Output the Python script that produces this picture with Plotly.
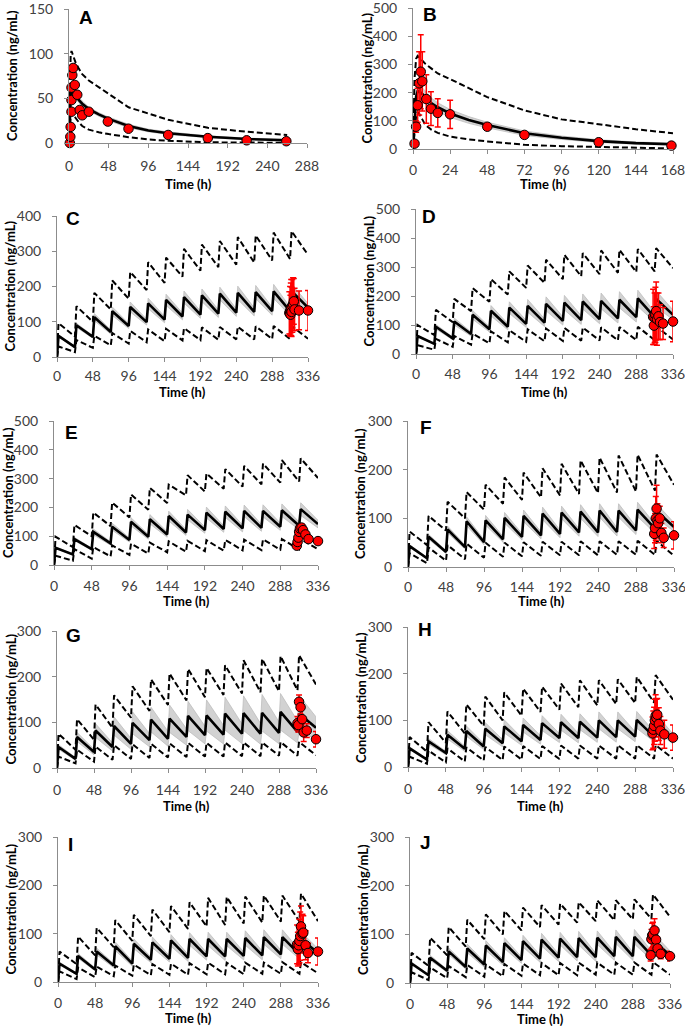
import plotly.graph_objects as go

W, H = 685, 1026

# ---------------- Panel A (single dose) ----------------
A_t = [0, 1, 2, 3, 4, 6, 8, 12, 16, 24, 36, 48, 72, 96, 120, 168, 216, 264]
A_med = [0, 30, 48, 56, 57, 56, 53, 48, 44, 38, 32, 27, 19, 14, 11, 7, 4.5, 3]
A_hi = [0, 70, 98, 103, 100, 95, 90, 83, 77, 70, 62, 55, 40, 33, 26, 17, 12.5, 9]
A_lo = [0, 18, 30, 34, 33, 31, 28, 23, 19, 15, 12, 10, 6.5, 4, 2.5, 0.8, 0.4, 0.2]
A_spread = [0, 3, 3, 3, 3, 3, 3, 3, 3, 2, 2, 2, 2, 1.5, 1.5, 1, 1, 1]
A_obs_t = [1, 1.6, 2, 3, 3, 3, 4, 5, 7, 10, 13, 16, 24, 47, 72, 120, 168, 215, 263]
A_obs_y = [0, 7, 18, 35, 48, 62, 76, 84, 65, 54, 37, 31, 35, 24, 16, 9, 5.5, 3, 2]

# ---------------- Panel B (single dose) ----------------
B_t = [0, 1, 2, 3, 4, 6, 8, 12, 16, 24, 36, 48, 72, 96, 120, 144, 168]
B_med = [0, 120, 185, 205, 205, 195, 182, 162, 148, 126, 103, 85, 56, 40, 28, 21, 17]
B_hi = [0, 250, 320, 330, 325, 312, 302, 285, 268, 248, 215, 184, 137, 105, 88, 70, 56]
B_lo = [0, 70, 115, 130, 125, 105, 85, 68, 57, 44, 34, 27, 15, 10, 7, 4, 2]
B_spread = [0, 20, 25, 25, 25, 22, 20, 18, 16, 14, 12, 10, 8, 6, 5, 4, 4]
B_obs_t = [1, 2, 3, 4, 5, 6, 8.6, 11.6, 16, 24, 48, 72, 120, 167]
B_obs_y = [19, 79, 155, 233, 274, 240, 177, 143, 128, 123, 79, 50, 24, 12]
B_obs_e = [0, 20, 60, 112, 131, 105, 86, 60, 50, 50, 0, 0, 0, 0]

# ---------------- Multiple dose panels C-J (dosing every 24 h) ----------------
DOSE_T = [0, 24, 48, 72, 96, 120, 144, 168, 192, 216, 240, 264, 288, 312]
END_T = 336

C_med_pk = [60, 90, 113, 130, 142, 152, 162, 170, 175, 180, 182, 184, 186, 187]
C_med_tr = [0, 28, 57, 71, 88, 99, 106, 115, 120, 123, 126, 128, 130, 130, 140]
C_hi_pk = [96, 144, 182, 217, 241, 269, 282, 307, 319, 329, 340, 345, 353, 357]
C_hi_tr = [0, 58, 100, 135, 165, 190, 210, 228, 245, 255, 262, 268, 274, 278, 290]
C_lo_pk = [30, 48, 60, 68, 74, 78, 80, 82, 84, 85, 86, 87, 88, 88]
C_lo_tr = [0, 14, 26, 33, 38, 42, 45, 47, 48, 49, 50, 50, 51, 51, 52]
C_spread = [3, 6, 10, 12, 14, 15, 16, 17, 18, 18, 19, 19, 20, 20]
C_obs_t = [311, 312, 312.5, 313, 313.5, 314, 315, 316, 317, 318, 324, 336]
C_obs_y = [125, 130, 120, 135, 140, 128, 145, 150, 158, 135, 132, 132]
C_obs_e = [60, 70, 55, 75, 80, 70, 75, 75, 65, 60, 55, 57]

D_med_pk = [62, 94, 112, 135, 149, 160, 166, 173, 177, 181, 183, 187, 192, 190]
D_med_tr = [0, 35, 54, 69, 85, 94, 104, 108, 114, 117, 120, 123, 127, 127, 135]
D_hi_pk = [100, 152, 190, 227, 258, 285, 305, 325, 342, 348, 357, 359, 362, 365]
D_hi_tr = [0, 65, 110, 148, 180, 205, 228, 245, 258, 268, 275, 280, 283, 285, 296]
D_lo_pk = [30, 52, 62, 70, 78, 82, 85, 88, 90, 91, 92, 93, 94, 95]
D_lo_tr = [0, 15, 25, 32, 37, 40, 42, 44, 45, 46, 47, 47, 48, 48, 50]
D_spread = [4, 8, 12, 15, 18, 20, 22, 24, 25, 26, 27, 28, 28, 28]
D_obs_t = [310, 311, 312, 313, 314, 315, 317, 319, 323, 336]
D_obs_y = [128, 98, 125, 135, 148, 120, 130, 110, 105, 112]
D_obs_e = [95, 65, 85, 95, 100, 90, 80, 60, 55, 70]

E_med_pk = [60, 90, 115, 133, 150, 159, 170, 175, 182, 185, 188, 188, 190, 194]
E_med_tr = [0, 37, 55, 75, 87, 98, 106, 113, 121, 125, 127, 129, 133, 136, 142]
E_hi_pk = [98, 139, 182, 217, 245, 268, 279, 312, 318, 333, 344, 352, 364, 370]
E_hi_tr = [0, 62, 100, 135, 165, 192, 215, 242, 255, 265, 272, 280, 286, 290, 302]
E_lo_pk = [32, 55, 62, 68, 74, 78, 82, 84, 86, 87, 88, 89, 90, 90]
E_lo_tr = [0, 15, 22, 30, 35, 40, 44, 46, 48, 50, 51, 52, 53, 54, 55]
E_spread = [3, 6, 10, 12, 14, 16, 17, 18, 19, 20, 20, 21, 22, 22]
E_obs_t = [309, 310, 311, 312, 313, 315, 317, 320, 324, 336]
E_obs_y = [67, 80, 95, 115, 127, 130, 121, 106, 90, 83]
E_obs_e = [6, 8, 10, 10, 12, 12, 10, 8, 6, 6]

F_med_pk = [43, 62, 77, 94, 96, 101, 105, 110, 112, 114, 116, 116, 118, 115]
F_med_tr = [0, 18, 31, 41, 51, 57, 62, 65, 68, 71, 71, 72, 75, 79, 82]
F_hi_pk = [73, 105, 134, 154, 169, 184, 194, 203, 212, 219, 225, 229, 231, 231]
F_hi_tr = [0, 45, 75, 100, 118, 130, 138, 143, 147, 150, 152, 153, 155, 157, 169]
F_lo_pk = [28, 40, 45, 48, 50, 50, 51, 52, 52, 53, 53, 53, 54, 54]
F_lo_tr = [0, 8, 13, 16, 19, 21, 22, 23, 24, 24, 24, 25, 25, 25, 23]
F_spread = [3, 5, 7, 9, 10, 11, 12, 13, 13, 14, 14, 14, 15, 15]
F_obs_t = [311, 312, 313, 314, 315, 316, 318, 320, 323, 336]
F_obs_y = [68, 80, 100, 120, 95, 90, 100, 70, 60, 65]
F_obs_e = [30, 30, 45, 48, 35, 30, 25, 20, 20, 28]

G_med_pk = [46, 68, 82, 92, 99, 106, 108, 114, 115, 119, 120, 121, 123, 119]
G_med_tr = [0, 20, 35, 46, 53, 61, 64, 68, 72, 73, 75, 75, 77, 79, 88]
G_hi_pk = [75, 107, 139, 159, 179, 194, 207, 217, 219, 225, 236, 239, 245, 247]
G_hi_tr = [0, 40, 62, 88, 110, 125, 138, 148, 155, 160, 163, 166, 168, 170, 183]
G_lo_pk = [25, 40, 47, 50, 52, 53, 54, 55, 55, 56, 56, 56, 57, 57]
G_lo_tr = [0, 10, 14, 18, 20, 22, 23, 24, 25, 25, 26, 26, 27, 27, 28]
G_spread = [5, 10, 15, 20, 24, 27, 30, 32, 34, 36, 38, 40, 40, 40]
G_obs_t = [312, 313, 314, 316, 318, 320, 324, 336]
G_obs_y = [98, 94, 145, 133, 107, 78, 82, 63]
G_obs_e = [15, 15, 15, 15, 25, 20, 15, 17]

H_med_pk = [40, 55, 69, 77, 82, 87, 90, 94, 96, 97, 100, 100, 101, 97]
H_med_tr = [0, 16, 30, 39, 44, 51, 55, 58, 62, 62, 63, 64, 65, 65, 60]
H_hi_pk = [64, 96, 119, 134, 151, 160, 168, 172, 179, 186, 186, 188, 193, 197]
H_hi_tr = [0, 33, 52, 72, 88, 100, 110, 118, 123, 128, 132, 135, 137, 138, 144]
H_lo_pk = [22, 35, 40, 42, 43, 44, 45, 45, 46, 46, 46, 47, 47, 47]
H_lo_tr = [0, 7, 10, 12, 14, 15, 16, 17, 17, 18, 18, 18, 18, 18, 18]
H_spread = [3, 6, 9, 11, 13, 14, 15, 16, 17, 17, 18, 18, 18, 18]
H_obs_t = [310, 311, 312, 313, 314, 315, 316, 318, 320, 325, 336]
H_obs_y = [72, 80, 88, 100, 110, 105, 112, 92, 78, 70, 63]
H_obs_e = [35, 40, 40, 45, 45, 40, 35, 35, 30, 30, 27]

I_med_pk = [38, 54, 63, 74, 79, 82, 86, 89, 89, 89, 91, 93, 93, 89]
I_med_tr = [0, 17, 26, 34, 38, 46, 48, 50, 53, 53, 54, 55, 57, 57, 60]
I_hi_pk = [63, 94, 112, 128, 139, 150, 157, 165, 174, 176, 177, 179, 179, 183]
I_hi_tr = [0, 37, 55, 72, 85, 95, 103, 110, 115, 118, 121, 123, 125, 125, 126]
I_lo_pk = [22, 30, 32, 34, 36, 37, 38, 39, 40, 40, 40, 40, 41, 41]
I_lo_tr = [0, 6, 10, 12, 13, 14, 15, 15, 16, 16, 16, 17, 17, 17, 18]
I_spread = [3, 5, 7, 9, 10, 11, 12, 13, 14, 14, 15, 15, 15, 15]
I_obs_t = [309, 310, 311, 312, 313, 314, 316, 317, 320, 323, 336]
I_obs_y = [78, 68, 76, 85, 95, 115, 100, 102, 76, 60, 63]
I_obs_e = [40, 35, 40, 45, 50, 42, 40, 35, 30, 20, 28]

J_med_pk = [40, 52, 65, 71, 77, 82, 86, 89, 91, 92, 93, 95, 95, 88]
J_med_tr = [0, 16, 25, 33, 38, 43, 47, 50, 52, 53, 53, 55, 55, 57, 57]
J_hi_pk = [62, 93, 115, 130, 141, 148, 155, 160, 163, 166, 170, 170, 172, 182]
J_hi_tr = [0, 35, 57, 75, 90, 100, 108, 115, 120, 124, 127, 129, 131, 132, 136]
J_lo_pk = [22, 32, 35, 37, 38, 39, 40, 41, 41, 42, 42, 42, 42, 43]
J_lo_tr = [0, 6, 10, 12, 13, 14, 15, 16, 16, 16, 17, 17, 17, 17, 17]
J_spread = [3, 5, 7, 9, 10, 11, 12, 13, 13, 14, 14, 14, 15, 15]
J_obs_t = [311, 312, 313, 314, 316, 318, 320, 324, 336]
J_obs_y = [57, 90, 98, 100, 108, 89, 71, 60, 55]
J_obs_e = [12, 20, 25, 25, 24, 20, 15, 10, 10]

Y_TITLE = "Concentration (ng/mL)"
X_TITLE = "Time (h)"

# ---------------- helpers ----------------
RISE = 2.0


def sawtooth(pk, tr):
    xs, ys = [], []
    for k, t0 in enumerate(DOSE_T):
        xs += [t0, t0 + RISE]
        ys += [tr[k], pk[k]]
    xs.append(END_T)
    ys.append(tr[len(DOSE_T)])
    return xs, ys


def band_md(pk, tr, spread, sign):
    up_pk = [p + sign * s for p, s in zip(pk, spread)]
    up_tr = [tr[0]] + [t + sign * 0.6 * s for t, s in zip(tr[1:], spread)]
    return sawtooth(up_pk, up_tr)


fig = go.Figure()

BAND = "rgba(205,205,205,0.9)"
DASH = "6px,3px"


def add_band(xs_u, ys_u, xs_l, ys_l, ax):
    fig.add_trace(go.Scatter(x=xs_u + xs_l[::-1], y=ys_u + ys_l[::-1], fill="toself",
                             fillcolor=BAND, line=dict(color="rgba(185,185,185,0.9)", width=0.8),
                             mode="lines", hoverinfo="skip", showlegend=False,
                             xaxis="x" + ax, yaxis="y" + ax))


def add_line(xs, ys, ax, dash=None, width=2.0):
    fig.add_trace(go.Scatter(x=xs, y=ys, mode="lines",
                             line=dict(color="black", width=width, dash=dash),
                             showlegend=False, hoverinfo="skip",
                             xaxis="x" + ax, yaxis="y" + ax))


def add_obs(t, y, e, ax):
    kw = {}
    if e is not None:
        kw["error_y"] = dict(type="data", array=e, color="#ff0000", thickness=1.5, width=3)
    fig.add_trace(go.Scatter(x=t, y=y, mode="markers",
                             marker=dict(size=9.5, color="#ff0000", line=dict(color="black", width=1)),
                             showlegend=False, cliponaxis=False,
                             xaxis="x" + ax, yaxis="y" + ax, **kw))


# panel A
ax = ""
ua = [m + s for m, s in zip(A_med, A_spread)]
la = [m - s for m, s in zip(A_med, A_spread)]
add_band(A_t, ua, A_t, la, ax)
add_line(A_t, A_hi, ax, DASH)
add_line(A_t, A_lo, ax, DASH)
add_line(A_t, A_med, ax, None, 2.6)
add_obs(A_obs_t, A_obs_y, None, ax)

# panel B
ax = "2"
ub = [m + s for m, s in zip(B_med, B_spread)]
lb = [max(m - s, 0) for m, s in zip(B_med, B_spread)]
add_band(B_t, ub, B_t, lb, ax)
add_line(B_t, B_hi, ax, DASH)
add_line(B_t, B_lo, ax, DASH)
add_line(B_t, B_med, ax, None, 2.6)
add_obs(B_obs_t, B_obs_y, B_obs_e, ax)

multi = [
    ("3", C_med_pk, C_med_tr, C_hi_pk, C_hi_tr, C_lo_pk, C_lo_tr, C_spread, C_obs_t, C_obs_y, C_obs_e),
    ("4", D_med_pk, D_med_tr, D_hi_pk, D_hi_tr, D_lo_pk, D_lo_tr, D_spread, D_obs_t, D_obs_y, D_obs_e),
    ("5", E_med_pk, E_med_tr, E_hi_pk, E_hi_tr, E_lo_pk, E_lo_tr, E_spread, E_obs_t, E_obs_y, E_obs_e),
    ("6", F_med_pk, F_med_tr, F_hi_pk, F_hi_tr, F_lo_pk, F_lo_tr, F_spread, F_obs_t, F_obs_y, F_obs_e),
    ("7", G_med_pk, G_med_tr, G_hi_pk, G_hi_tr, G_lo_pk, G_lo_tr, G_spread, G_obs_t, G_obs_y, G_obs_e),
    ("8", H_med_pk, H_med_tr, H_hi_pk, H_hi_tr, H_lo_pk, H_lo_tr, H_spread, H_obs_t, H_obs_y, H_obs_e),
    ("9", I_med_pk, I_med_tr, I_hi_pk, I_hi_tr, I_lo_pk, I_lo_tr, I_spread, I_obs_t, I_obs_y, I_obs_e),
    ("10", J_med_pk, J_med_tr, J_hi_pk, J_hi_tr, J_lo_pk, J_lo_tr, J_spread, J_obs_t, J_obs_y, J_obs_e),
]
for (ax, mpk, mtr, hpk, htr, lpk, ltr, spr, ot, oy, oe) in multi:
    xu, yu = band_md(mpk, mtr, spr, 1)
    xl, yl = band_md(mpk, mtr, spr, -1)
    add_band(xu, yu, xl, yl, ax)
    xs, ys = sawtooth(hpk, htr)
    add_line(xs, ys, ax, DASH)
    xs, ys = sawtooth(lpk, ltr)
    add_line(xs, ys, ax, DASH)
    xs, ys = sawtooth(mpk, mtr)
    add_line(xs, ys, ax, None, 2.6)
    add_obs(ot, oy, oe, ax)

# ---------------- layout (pixel geometry) ----------------
# letter, x0, x1, ytop, ybot, xmax, xdtick, ymax, letter_x, letter_y, ytitle_x, xtitle_y, xlabel_standoff
geom = [
    ("A", 69, 307, 9, 143, 288, 48, 150, 86, 17, 12, 184, 6),
    ("B", 413, 673, 8, 149, 168, 24, 500, 430, 15, 367, 184, 4),
    ("C", 57, 308, 216, 357, 336, 48, 400, 73, 218, 10, 392, 2),
    ("D", 416, 673, 209, 354, 336, 48, 500, 429, 216, 368, 392, 3),
    ("E", 54, 318, 421, 565, 336, 48, 500, 71, 432, 8, 601, 4),
    ("F", 408, 674, 421, 567, 336, 48, 300, 426, 427, 360, 601, 3),
    ("G", 57, 316, 631, 768, 336, 48, 300, 73, 635, 10, 806, 5),
    ("H", 408, 673, 627, 767, 336, 48, 300, 425, 629, 361, 806, 5),
    ("I", 58, 318, 837, 982, 336, 48, 300, 70, 844, 10, 1018, 4),
    ("J", 410, 670, 837, 983, 336, 48, 300, 425, 842, 363, 1019, 4),
]

TICKFONT = dict(family="Lato, Open Sans, sans-serif", size=14, color="#404040")
AXC = "#8c8c8c"
ann = []
lay = {}
for i, (let, x0, x1, yt, yb, xmax, xd, ymax, lx, ly, tx, ty, xs_off) in enumerate(geom):
    n = "" if i == 0 else str(i + 1)
    lay["xaxis" + n] = dict(domain=[x0 / W, x1 / W], range=[0, xmax], dtick=xd, tick0=0,
                            anchor="y" + n, showline=True, linecolor=AXC, linewidth=1,
                            ticks="outside", ticklen=4, tickcolor=AXC, showgrid=False,
                            zeroline=False, tickfont=TICKFONT, ticklabelstandoff=xs_off,
                            ticklabeloverflow="allow", automargin=False)
    lay["yaxis" + n] = dict(domain=[1 - yb / H, 1 - yt / H], range=[0, ymax], dtick=100 if ymax > 150 else 50,
                            tick0=0, anchor="x" + n, showline=True, linecolor=AXC, linewidth=1,
                            ticks="outside", ticklen=4, tickcolor=AXC, showgrid=False,
                            zeroline=False, tickfont=TICKFONT, ticklabelstandoff=8,
                            ticklabeloverflow="allow", automargin=False)
    ann.append(dict(text="<b>%s</b>" % let, x=lx / W, y=1 - ly / H, xref="paper", yref="paper",
                    xanchor="center", yanchor="middle", showarrow=False,
                    font=dict(family="Liberation Sans, Arial, sans-serif", size=19, color="black")))
    ann.append(dict(text="<b>%s</b>" % Y_TITLE, x=tx / W, y=1 - (yt + yb) / 2 / H, xref="paper",
                    yref="paper", xanchor="center", yanchor="middle", textangle=-90, showarrow=False,
                    font=dict(family="Lato, Open Sans, sans-serif", size=13, color="black")))
    ann.append(dict(text="<b>%s</b>" % X_TITLE, x=(x0 + x1) / 2 / W, y=1 - ty / H, xref="paper",
                    yref="paper", xanchor="center", yanchor="middle", showarrow=False,
                    font=dict(family="Lato, Open Sans, sans-serif", size=13, color="black")))

fig.update_layout(width=W, height=H, margin=dict(l=0, r=0, t=0, b=0, autoexpand=False),
                  paper_bgcolor="white", plot_bgcolor="white", showlegend=False,
                  annotations=ann, **lay)

fig.write_html("out.html", config={"displayModeBar": False},
               post_script="document.body.style.margin='0';")
